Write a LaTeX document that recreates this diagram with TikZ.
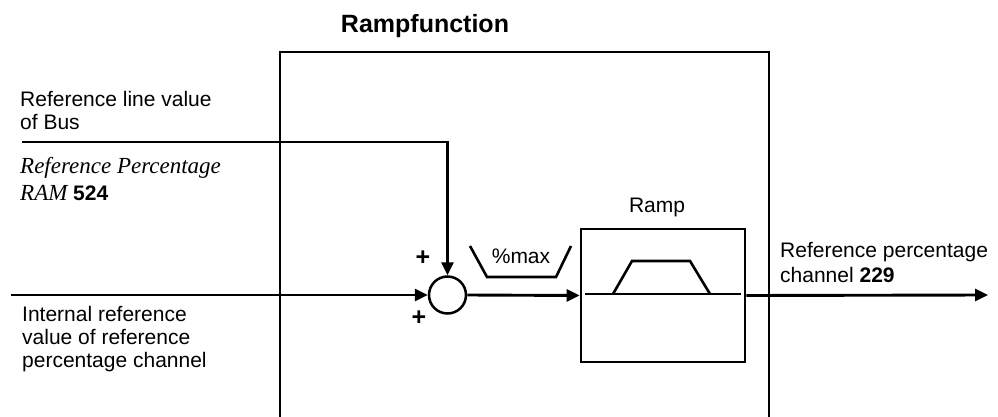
\documentclass[tikz,border=0pt]{standalone}
\usepackage{fontspec}
\setmainfont{Liberation Sans}
\newfontfamily\timesfont{Liberation Serif}
\usetikzlibrary{arrows.meta}
\begin{document}
\begin{tikzpicture}[x=1pt,y=-1pt,line join=miter,
  wire/.style={line width=2.9pt},
  arr/.style={wire,-{Triangle[length=13pt,width=12pt]}},
  frame/.style={line width=2.6pt},
  thinline/.style={line width=1.4pt},
  lbl/.style={font=\fontsize{21}{23}\selectfont,align=left,inner sep=0pt,anchor=base west},
  plus/.style={font=\bfseries\fontsize{25}{27}\selectfont,inner sep=0pt}]
\useasboundingbox (0,0) rectangle (998,417);

% title and outer frame
\node[font=\bfseries\fontsize{25}{28}\selectfont,anchor=base] (title) at (425,33) {Rampfunction};
\draw[frame] (280,420) -- (280,52) -- (769,52) -- (769,420);

% blocks
\node[circle,draw,line width=2.5pt,minimum size=37pt,inner sep=0pt] (sum) at (447.5,295) {};
\node[draw,frame,minimum width=164pt,minimum height=133pt,inner sep=0pt] (ramp) at (663,295.5) {};
\node[font=\fontsize{21}{23}\selectfont,anchor=base,inner sep=0pt] (ramplbl) at (657,212) {Ramp};

% ramp symbol
\draw[thinline] (585,294) -- (741,294);
\draw[frame] (613,294) -- (632,261) -- (690,261) -- (710,294);

% %max symbol
\draw[frame] (470,246) -- (487,277) -- (556,277) -- (571,246);
\node[font=\fontsize{21}{23}\selectfont,inner sep=0pt] (pmax) at (521,256) {\%max};

% plus signs
\node[plus] (p1) at (423,258) {+};
\node[plus] (p2) at (419,318) {+};

% connectors
\coordinate (in) at (11,295);
\coordinate (out) at (988,295);
\coordinate (bus) at (22,142);
\draw[arr] (in) -- (sum.west);
\draw[arr] (bus) -| (sum.north);
\draw[arr] (sum.east) -- (ramp.west);
\draw[arr] (ramp.east) -- (out);

% labels (anchor = baseline of last line)
\node[lbl] (t1) at (20,130) {Reference line value\\of Bus};
\node[lbl,font=\timesfont\itshape\fontsize{23}{27}\selectfont] (t2) at (20,200) {Reference Percentage\\RAM {\normalfont\bfseries\fontsize{21}{27}\selectfont 524}};
\node[lbl] (t3) at (22,367) {Internal reference\\value of reference\\percentage channel};
\node[lbl,font=\fontsize{21}{25}\selectfont] (t4) at (780,282) {Reference percentage\\channel \textbf{229}};
\end{tikzpicture}
\end{document}
